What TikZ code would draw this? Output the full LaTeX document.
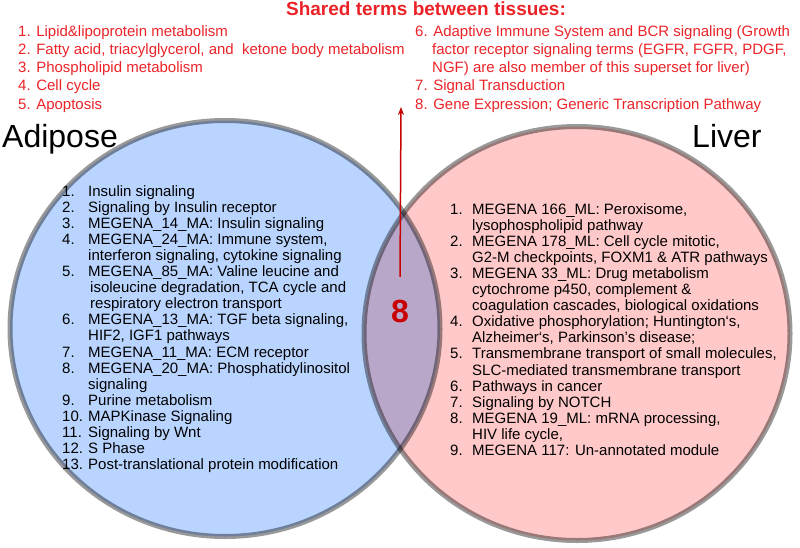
\documentclass[tikz,border=0pt]{standalone}
\usepackage{fontspec}
\setmainfont{Liberation Sans}
\usepackage{xcolor}
\usetikzlibrary{arrows.meta}
\definecolor{adiposefill}{RGB}{185,213,255}
\definecolor{liverfill}{RGB}{255,201,201}
\definecolor{rim}{RGB}{153,153,153}
\definecolor{sharedred}{RGB}{235,35,40}
\definecolor{darkred}{RGB}{200,0,0}
\newcommand{\lnum}[2][26pt]{\makebox[#1][l]{#2}}

\begin{document}
\begin{tikzpicture}[x=1pt,y=-1pt,
    termlist/.style={anchor=north west,inner sep=0pt,align=left,font=\fontsize{15}{16.1}\selectfont},
    sharedlist/.style={anchor=north west,inner sep=0pt,align=left,text=sharedred,font=\fontsize{15}{18.25}\selectfont},
    tissue/.style={anchor=base west,inner sep=0pt,font=\fontsize{32}{36}\selectfont}]
    \useasboundingbox (0,0) rectangle (800,547);
    \begin{scope}[blend group=multiply]
        \draw[rim,line width=5pt,fill=adiposefill] (225,328.5) ellipse [x radius=215,y radius=208];
        \draw[rim,line width=5pt,fill=liverfill] (577,333.5) ellipse [x radius=213,y radius=207];
    \end{scope}
    \node[anchor=base,inner sep=0pt,text=sharedred,font=\fontsize{19}{22}\selectfont\bfseries] (title) at (426,15.5) {Shared terms between tissues:};
    \node[sharedlist] (sharedleft) at (18,25) {
        1. Lipid\&lipoprotein metabolism\\
        2. Fatty acid, triacylglycerol, and\ \ ketone body metabolism\\
        3. Phospholipid metabolism\\
        4. Cell cycle\\
        5. Apoptosis};
    \node[sharedlist] (sharedright) at (415,25) {
        6. Adaptive Immune System and BCR signaling (Growth\\
        \hspace*{17pt}factor receptor signaling terms (EGFR, FGFR, PDGF,\\
        \hspace*{17pt}NGF) are also member of this superset for liver)\\
        7. Signal Transduction\\
        8. Gene Expression; Generic Transcription Pathway};
    \node[tissue] (adipose) at (2,147) {Adipose};
    \node[tissue] (liver) at (692,147) {Liver};
    \node[termlist] (adiposelist) at (62,185) {
        \lnum{1.}Insulin signaling\\
        \lnum{2.}Signaling by Insulin receptor\\
        \lnum{3.}MEGENA\_14\_MA: Insulin signaling\\
        \lnum{4.}MEGENA\_24\_MA: Immune system,\\
        \lnum{}interferon signaling, cytokine signaling\\
        \lnum{5.}MEGENA\_85\_MA: Valine leucine and\\
        \lnum{}\hspace{2pt}isoleucine degradation, TCA cycle and\\
        \lnum{}\hspace{2pt}respiratory electron transport\\
        \lnum{6.}MEGENA\_13\_MA: TGF beta signaling,\\
        \lnum{}HIF2, IGF1 pathways\\
        \lnum{7.}MEGENA\_11\_MA: ECM receptor\\
        \lnum{8.}MEGENA\_20\_MA: Phosphatidylinositol\\
        \lnum{}signaling\\
        \lnum{9.}Purine metabolism\\
        \lnum{10.}MAPKinase Signaling\\
        \lnum{11.}Signaling by Wnt\\
        \lnum{12.}S Phase\\
        \lnum{13.}Post-translational protein modification};
    \node[termlist] (liverlist) at (450,203) {
        \lnum[22pt]{1.}MEGENA 166\_ML: Peroxisome,\\
        \lnum[22pt]{}lysophospholipid pathway\\
        \lnum[22pt]{2.}MEGENA 178\_ML: Cell cycle mitotic,\\
        \lnum[22pt]{}G2-M checkpoints, FOXM1 \& ATR pathways\\
        \lnum[22pt]{3.}MEGENA 33\_ML: Drug metabolism\\
        \lnum[22pt]{}cytochrome p450, complement \&\\
        \lnum[22pt]{}coagulation cascades, biological oxidations\\
        \lnum[22pt]{4.}Oxidative phosphorylation; Huntington‘s,\\
        \lnum[22pt]{}Alzheimer‘s, Parkinson's disease;\\
        \lnum[22pt]{5.}Transmembrane transport of small molecules,\\
        \lnum[22pt]{}SLC-mediated transmembrane transport\\
        \lnum[22pt]{6.}Pathways in cancer\\
        \lnum[22pt]{7.}Signaling by NOTCH\\
        \lnum[22pt]{8.}MEGENA 19\_ML: mRNA processing,\\
        \lnum[22pt]{}HIV life cycle,\\
        \lnum[22pt]{9.}MEGENA 117: Un-annotated module};
    \node[inner sep=0pt,text=darkred,font=\fontsize{32}{36}\selectfont\bfseries] (shared) at (400,311.5) {8};
    \coordinate (tip) at (401,107);
    \draw[darkred,line width=1.5pt,-{Stealth[length=8pt,width=6pt]}] ([yshift=23pt]shared.north) -- (tip);
\end{tikzpicture}
\end{document}
